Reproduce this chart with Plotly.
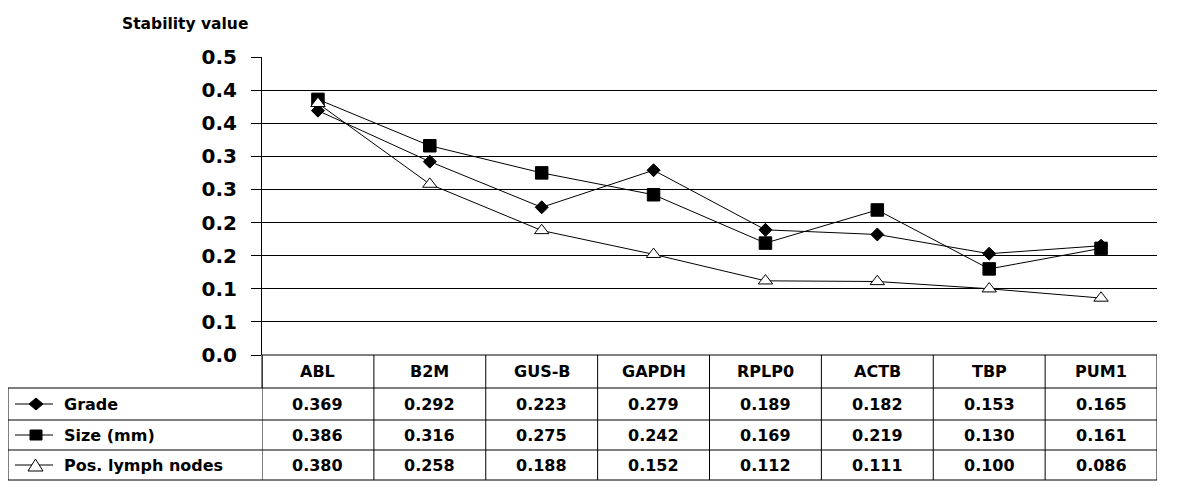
import plotly.graph_objects as go

categories = ["ABL", "B2M", "GUS-B", "GAPDH", "RPLP0", "ACTB", "TBP", "PUM1"]
series_names = ["Grade", "Size (mm)", "Pos. lymph nodes"]
grade = [0.369, 0.292, 0.223, 0.279, 0.189, 0.182, 0.153, 0.165]
size_mm = [0.386, 0.316, 0.275, 0.242, 0.169, 0.219, 0.130, 0.161]
lymph = [0.380, 0.258, 0.188, 0.152, 0.112, 0.111, 0.100, 0.086]
tick_vals = [0.0, 0.05, 0.10, 0.15, 0.20, 0.25, 0.30, 0.35, 0.40, 0.45]
tick_text = ["0.0", "0.1", "0.1", "0.2", "0.2", "0.3", "0.3", "0.4", "0.4", "0.5"]
y_title = "Stability value"

W, H = 1179, 498
OFF = 8  # page body margin
FONT = "DejaVu Sans, Arial, sans-serif"


def fx(p):
    return (p - OFF) / W


def fy(p):
    return 1 - (p - OFF) / H


# plot area in screen pixels
L, R, T, B = 262, 1157, 57, 355
rows_y = [355, 388, 420, 450, 480]

fig = go.Figure()
series = [grade, size_mm, lymph]
styles = [
    dict(symbol="diamond", size=10, color="black", line=dict(color="black", width=1)),
    dict(symbol="square", size=12.5, color="black", line=dict(color="black", width=1)),
    dict(symbol="triangle-up", size=12.5, color="white", line=dict(color="black", width=1)),
]
idx = list(range(len(categories)))
for name, vals, st in zip(series_names, series, styles):
    fig.add_trace(go.Scatter(
        x=idx, y=vals, name=name, mode="lines+markers",
        line=dict(color="black", width=1), marker=st, showlegend=False,
        cliponaxis=False,
    ))

shapes = []
shapes.append(dict(type="line", xref="paper", yref="paper", x0=fx(L), x1=fx(R), y0=fy(355), y1=fy(355),
                   line=dict(color="black", width=1)))
for yy in rows_y[1:]:
    shapes.append(dict(type="line", xref="paper", yref="paper", x0=fx(8), x1=fx(R), y0=fy(yy), y1=fy(yy),
                       line=dict(color="black", width=1)))
shapes.append(dict(type="line", xref="paper", yref="paper", x0=fx(8), x1=fx(8), y0=fy(388), y1=fy(480),
                   line=dict(color="black", width=1)))
for i in range(len(categories) + 1):
    shapes.append(dict(type="line", xref="x", yref="paper", x0=i - 0.5, x1=i - 0.5, y0=fy(355), y1=fy(480),
                       line=dict(color="black", width=1)))
shapes.append(dict(type="line", xref="paper", yref="paper", x0=fx(L), x1=fx(L), y0=fy(355), y1=fy(388),
                   line=dict(color="black", width=1)))

row_centers = [(rows_y[k] + rows_y[k + 1]) / 2 for k in range(4)]
for k in range(3):
    yc = row_centers[k + 1]
    shapes.append(dict(type="line", xref="paper", yref="paper", x0=fx(15), x1=fx(53), y0=fy(yc), y1=fy(yc),
                       line=dict(color="black", width=1)))
yc = row_centers[1]
shapes.append(dict(type="path", xref="paper", yref="paper",
                   path=f"M {fx(29)},{fy(yc)} L {fx(36)},{fy(yc-6)} L {fx(43)},{fy(yc)} L {fx(36)},{fy(yc+6)} Z",
                   fillcolor="black", line=dict(color="black", width=1)))
yc = row_centers[2]
shapes.append(dict(type="rect", xref="paper", yref="paper", x0=fx(30), x1=fx(42), y0=fy(yc - 5), y1=fy(yc + 5),
                   fillcolor="black", line=dict(color="black", width=1)))
yc = row_centers[3]
shapes.append(dict(type="path", xref="paper", yref="paper",
                   path=f"M {fx(28)},{fy(yc+6)} L {fx(35.5)},{fy(yc-6)} L {fx(43)},{fy(yc+6)} Z",
                   fillcolor="white", line=dict(color="black", width=1)))

annotations = []
bold = dict(family=FONT, size=16, color="black", weight="bold")
for i, c in enumerate(categories):
    annotations.append(dict(x=i, y=fy(row_centers[0]), xref="x", yref="paper", text=c, showarrow=False,
                            font=bold, xanchor="center", yanchor="middle"))
for k, (name, vals) in enumerate(zip(series_names, series)):
    yc = row_centers[k + 1]
    annotations.append(dict(x=fx(62), y=fy(yc), xref="paper", yref="paper", text=name, showarrow=False,
                            font=bold, xanchor="left", yanchor="middle"))
    for i, v in enumerate(vals):
        annotations.append(dict(x=i, y=fy(yc), xref="x", yref="paper", text=f"{v:.3f}", showarrow=False,
                                font=bold, xanchor="center", yanchor="middle"))
annotations.append(dict(x=fx(120), y=fy(24), xref="paper", yref="paper", text=y_title, showarrow=False,
                        font=dict(family=FONT, size=15.5, color="black", weight="bold"),
                        xanchor="left", yanchor="middle"))

fig.update_layout(
    width=W, height=H,
    margin=dict(l=0, r=0, t=0, b=0, autoexpand=False),
    paper_bgcolor="white", plot_bgcolor="white",
    showlegend=False,
    xaxis=dict(domain=[fx(L), fx(R)], range=[-0.5, len(categories) - 0.5], showticklabels=False,
               showgrid=False, zeroline=False, showline=False, ticks="", automargin=False),
    yaxis=dict(domain=[fy(B), fy(T)], range=[0, 0.45], tickvals=tick_vals, ticktext=tick_text,
               ticks="outside", ticklen=10, tickcolor="black", tickwidth=1,
               showline=True, linecolor="black", linewidth=1, automargin=False,
               showgrid=True, gridcolor="black", gridwidth=1, zeroline=False,
               tickfont=dict(family=FONT, size=20, color="black", weight="bold"), ticklabelstandoff=10),
    shapes=shapes,
    annotations=annotations,
)

fig.write_html("out.html")
